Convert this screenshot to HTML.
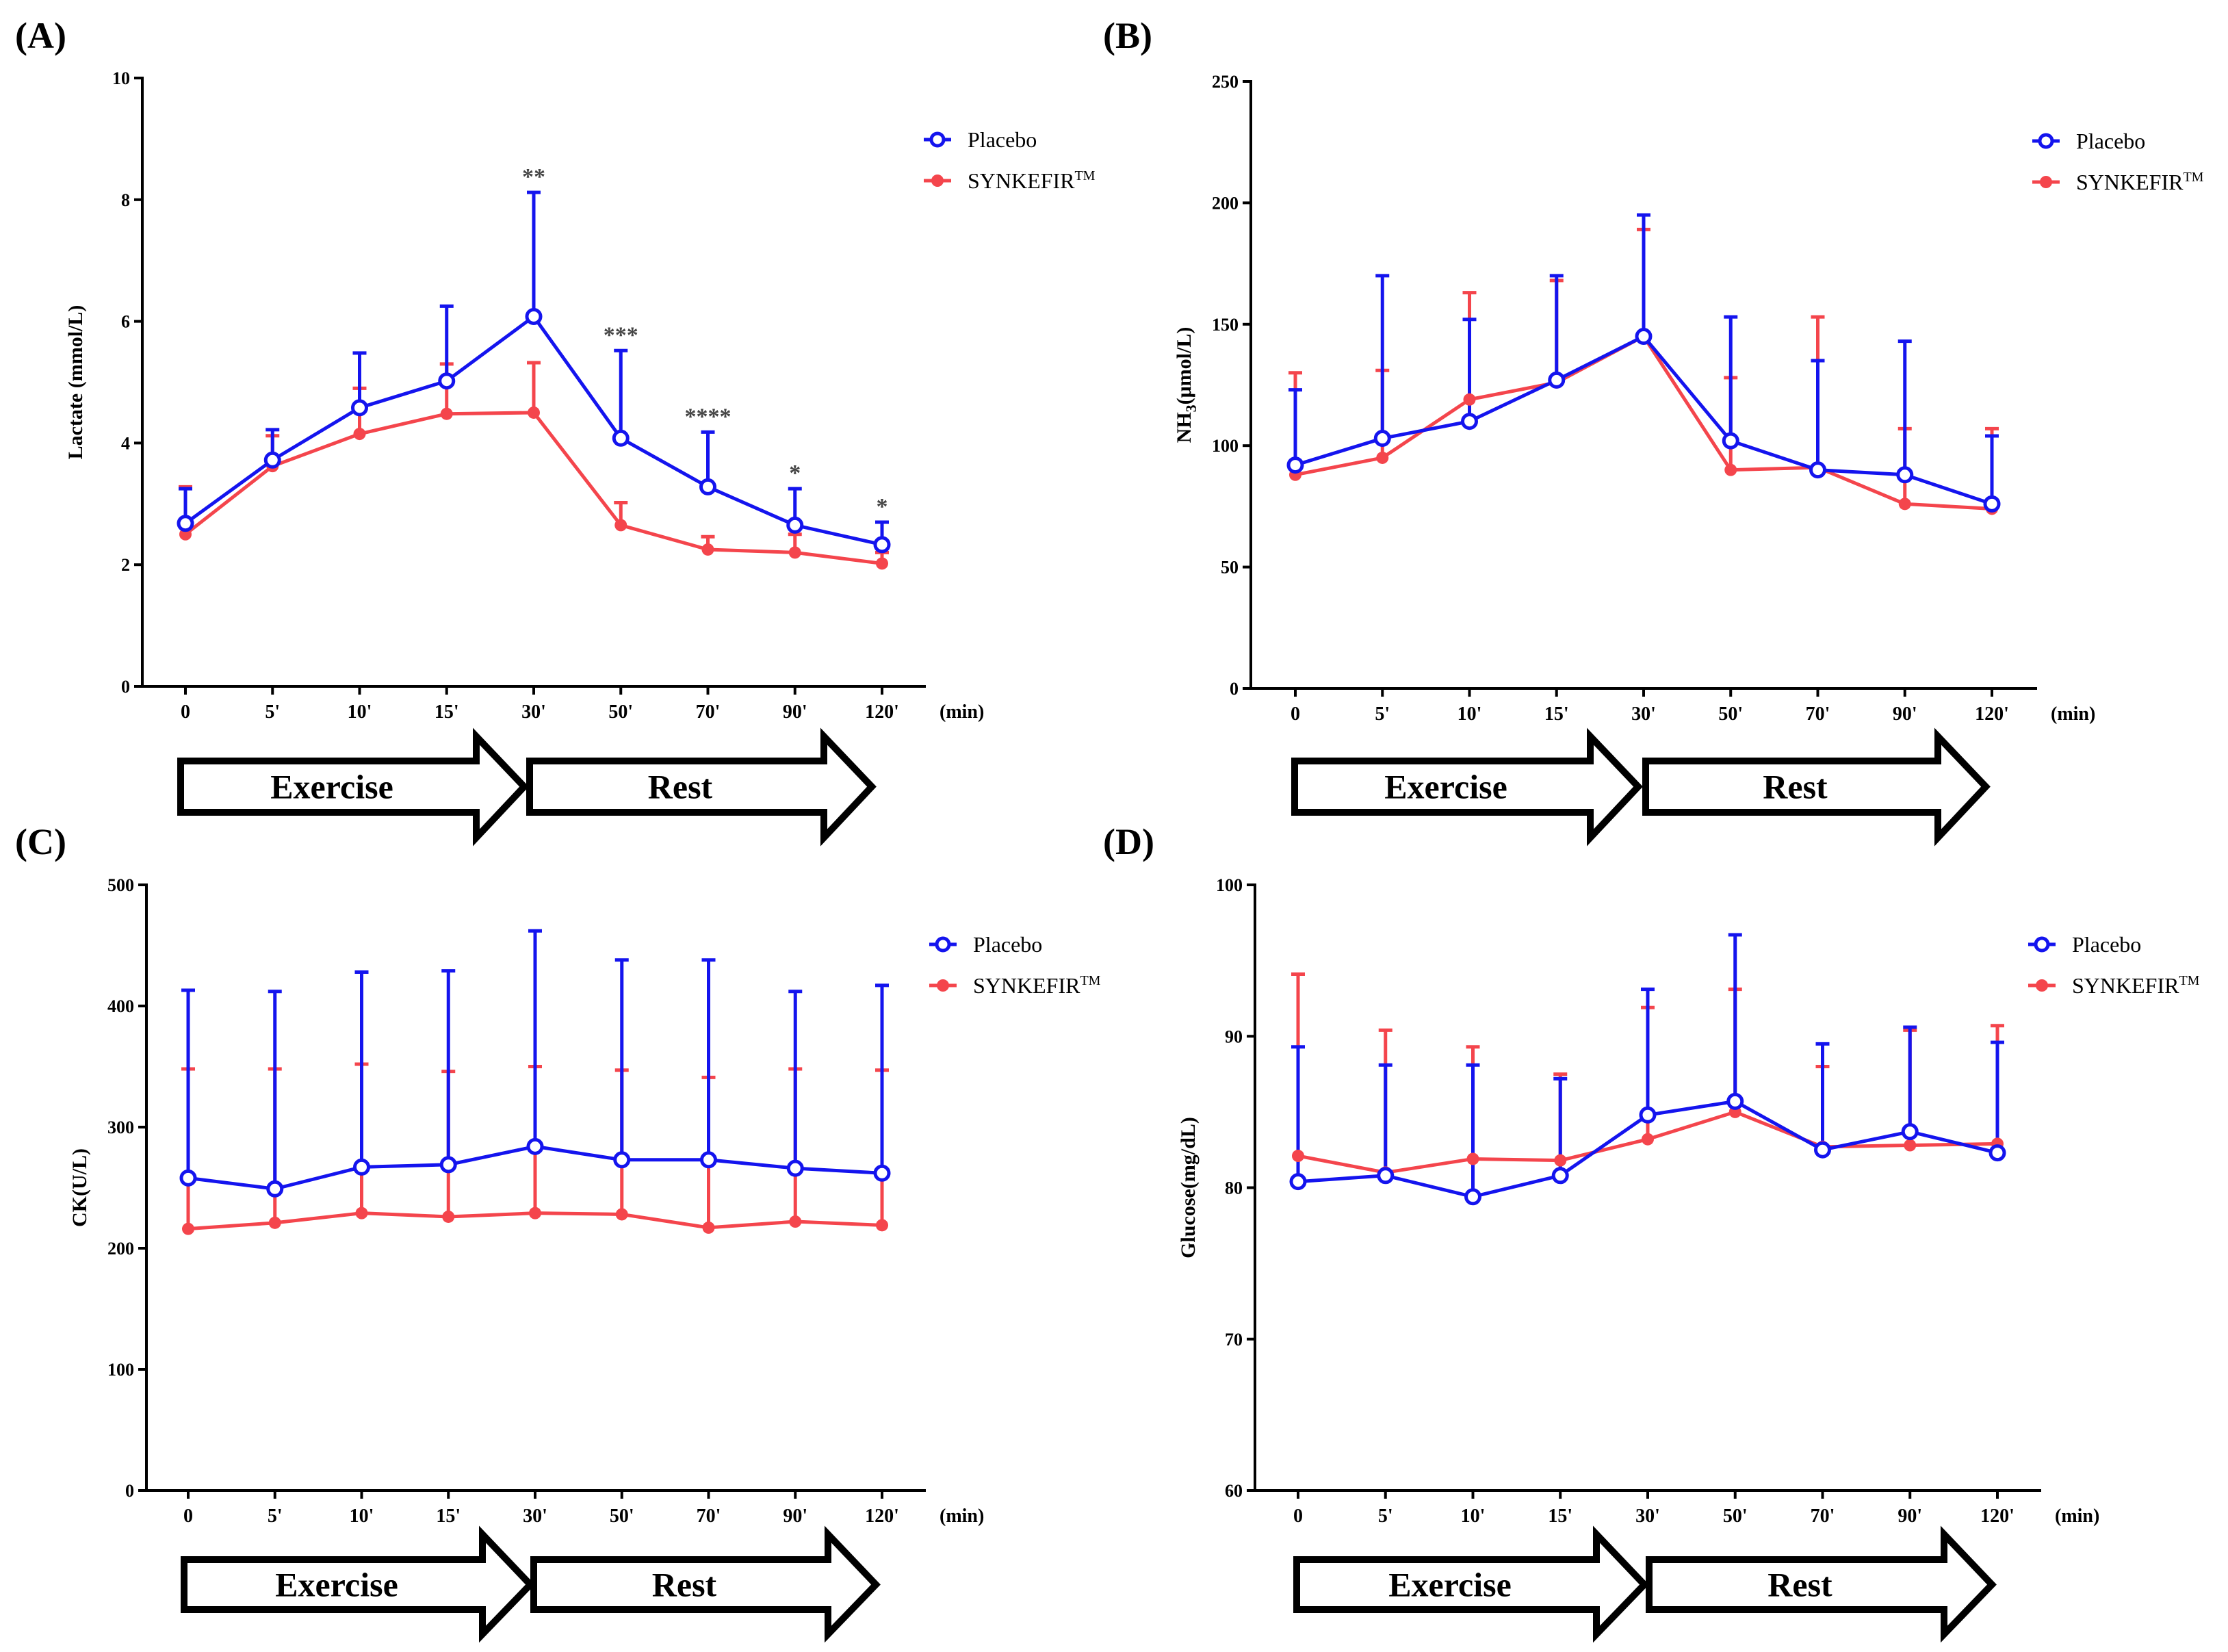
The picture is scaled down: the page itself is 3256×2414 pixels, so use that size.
<!DOCTYPE html>
<html><head><meta charset="utf-8"><style>
html,body{margin:0;padding:0;background:#fff;}
svg{display:block;}
text{font-family:"Liberation Serif",serif;}
</style></head><body>
<svg id="fig" width="3256" height="2414" viewBox="0 0 3256 2414" xmlns="http://www.w3.org/2000/svg"></svg>
<script>
const xCategories = ["0","5'","10'","15'","30'","50'","70'","90'","120'"];
const aPlacebo = [2.68,3.72,4.58,5.02,6.08,4.08,3.28,2.65,2.33];
const aPlaceboErr = [3.25,4.22,5.48,6.25,8.12,5.52,4.18,3.25,2.70];
const aSyn = [2.50,3.62,4.15,4.48,4.50,2.65,2.25,2.20,2.02];
const aSynErr = [3.28,4.12,4.90,5.30,5.32,3.02,2.46,2.50,2.20];
const aTicks = [0,2,4,6,8,10];
const aStars = ["","","","","**","***","****","*","*"];
const bPlacebo = [92,103,110,127,145,102,90,88,76];
const bPlaceboErr = [123,170,152,170,195,153,135,143,104];
const bSyn = [88,95,119,126,145,90,91,76,74];
const bSynErr = [130,131,163,168,189,128,153,107,107];
const bTicks = [0,50,100,150,200,250];
const cPlacebo = [258,249,267,269,284,273,273,266,262];
const cPlaceboErr = [413,412,428,429,462,438,438,412,417];
const cSyn = [216,221,229,226,229,228,217,222,219];
const cSynErr = [348,348,352,346,350,347,341,348,347];
const cTicks = [0,100,200,300,400,500];
const dPlacebo = [80.4,80.8,79.4,80.8,84.8,85.7,82.5,83.7,82.3];
const dPlaceboErr = [89.3,88.1,88.1,87.2,93.1,96.7,89.5,90.6,89.6];
const dSyn = [82.1,81.0,81.9,81.8,83.2,85.0,82.7,82.8,82.9];
const dSynErr = [94.1,90.4,89.3,87.5,91.9,93.1,88.0,90.4,90.7];
const dTicks = [60,70,80,90,100];

const NS="http://www.w3.org/2000/svg";
const svg=document.getElementById('fig');
function mk(tag,attrs,parent,txt){const e=document.createElementNS(NS,tag);for(const k in attrs)e.setAttribute(k,attrs[k]);if(txt!==undefined)e.textContent=txt;(parent||svg).appendChild(e);return e;}
const BLUE="#1414ee", RED="#f4454c";

function panel(cfg){
  const g=mk('g',{});
  
  
  const {ax,top,bot,x0,x8,xend,ymin,ymax}=cfg;
  const sy=v=>bot-(v-ymin)/(ymax-ymin)*(bot-top);
  const sx=i=>x0+i*(x8-x0)/8;
  const lbl=mk('text',{x:cfg.lx,y:cfg.ly,'font-size':54,'font-weight':'bold'},g,'('+cfg.id.toUpperCase()+')');
  
  
  const yaxis=mk('line',{x1:ax,y1:top-2,x2:ax,y2:bot+2,stroke:'#000','stroke-width':4},g);
  
  
  const xaxis=mk('line',{x1:ax-2,y1:bot,x2:xend,y2:bot,stroke:'#000','stroke-width':4},g);
  
  
  cfg.ticks.forEach(t=>{
    mk('line',{x1:ax-12,y1:sy(t),x2:ax,y2:sy(t),stroke:'#000','stroke-width':4},g);
    const tt=mk('text',{x:ax-18,y:sy(t)+9,'font-size':26,'font-weight':'bold','text-anchor':'end'},g,String(t));
    
    
  });
  xCategories.forEach((c,i)=>{
    mk('line',{x1:sx(i),y1:bot,x2:sx(i),y2:bot+12,stroke:'#000','stroke-width':4},g);
    const tt=mk('text',{x:sx(i),y:bot+46,'font-size':28,'font-weight':'bold','text-anchor':'middle'},g,c);
    
    
  });
  const mn=mk('text',{x:xend+20,y:bot+46,'font-size':28,'font-weight':'bold'},g,'(min)');
  
  
  const yt=mk('text',{x:0,y:0,'font-size':30,'font-weight':'bold','text-anchor':'middle',transform:`translate(${ax-88},${(top+bot)/2}) rotate(-90)`},g);
  
  
  cfg.ytitle.forEach(p=>{mk('tspan',p.sub?{'font-size':22,dy:8}:{dy:p.up?-8:0},yt,p.t);});
  const series=[{name:'synkefir',vals:cfg.syn,err:cfg.synErr,col:RED,open:false},{name:'placebo',vals:cfg.pla,err:cfg.plaErr,col:BLUE,open:true}];
  series.forEach(s=>{
    s.err.forEach((e,i)=>{
      const eb=mk('path',{d:`M${sx(i)},${sy(s.vals[i])}V${sy(e)}M${sx(i)-10},${sy(e)}H${sx(i)+10}`,stroke:s.col,'stroke-width':5,fill:'none'},g);
      
      
    });
  });
  series.forEach(s=>{
    const ln=mk('polyline',{points:s.vals.map((v,i)=>sx(i)+','+sy(v)).join(' '),stroke:s.col,'stroke-width':5,fill:'none'},g);
    
    
    s.vals.forEach((v,i)=>{
      const c=mk('circle',s.open?{cx:sx(i),cy:sy(v),r:10,fill:'#fff',stroke:s.col,'stroke-width':5}:{cx:sx(i),cy:sy(v),r:9,fill:s.col},g);
      
      
    });
  });
  if(cfg.stars){cfg.stars.forEach((st,i)=>{if(!st)return;
    const t=mk('text',{x:sx(i),y:sy(cfg.plaErr[i])-12,'font-size':34,'font-weight':'bold','fill':'#444','text-anchor':'middle'},g,st);
    
    });}
  const lg=mk('g',{},g);
  
  
  const L=cfg.legX, Ly=cfg.legY;
  mk('line',{x1:L-20,y1:Ly,x2:L+20,y2:Ly,stroke:BLUE,'stroke-width':5},lg);
  mk('circle',{cx:L,cy:Ly,r:9,fill:'#fff',stroke:BLUE,'stroke-width':5},lg);
  const p=mk('text',{x:L+44,y:Ly+11,'font-size':32},lg,'Placebo');
  
  
  mk('line',{x1:L-20,y1:Ly+60,x2:L+20,y2:Ly+60,stroke:RED,'stroke-width':5},lg);
  mk('circle',{cx:L,cy:Ly+60,r:9,fill:RED},lg);
  const q=mk('text',{x:L+44,y:Ly+71,'font-size':32},lg,'SYNKEFIR');
  
  
  mk('tspan',{'font-size':20,dy:-12},q,'TM');
  const ar=cfg.arrows;
  [['Exercise',ar.e1,ar.e2],['Rest',ar.r1,ar.r2]].forEach(([name,a,b])=>{
    const hs=b-70, bt=ar.y1, bb=ar.y2, ht=ar.h1, hb=ar.h2, mid=(bt+bb)/2;
    const pa=mk('path',{d:`M${a},${bt}H${hs}V${ht}L${b},${mid}L${hs},${hb}V${bb}H${a}Z`,fill:'#fff',stroke:'#000','stroke-width':10,'stroke-linejoin':'miter'},g);
    
    
    const t=mk('text',{x:(a+b)/2-30,y:mid+17,'font-size':50,'font-weight':'bold','text-anchor':'middle'},g,name);
    
    
  });
}
const arrTop={y1:1112,y2:1187,h1:1076,h2:1224};
const arrBot={y1:2279,y2:2352,h1:2242,h2:2388};
panel({id:'a',ax:208,top:114,bot:1003,x0:271,x8:1289,xend:1353,ymin:0,ymax:10,ticks:aTicks,
  ytitle:[{t:'Lactate (mmol/L)'}],pla:aPlacebo,plaErr:aPlaceboErr,syn:aSyn,synErr:aSynErr,stars:aStars,
  lx:22,ly:70,legX:1370,legY:204,arrows:Object.assign({e1:264,e2:766,r1:774,r2:1274},arrTop)});
panel({id:'b',ax:1828,top:119,bot:1006,x0:1893,x8:2911,xend:2977,ymin:0,ymax:250,ticks:bTicks,
  ytitle:[{t:'NH'},{t:'3',sub:true},{t:'(μmol/L)',up:true}],pla:bPlacebo,plaErr:bPlaceboErr,syn:bSyn,synErr:bSynErr,
  lx:1612,ly:70,legX:2990,legY:206,arrows:Object.assign({e1:1892,e2:2394,r1:2405,r2:2902},arrTop)});
panel({id:'c',ax:214,top:1293,bot:2178,x0:275,x8:1289,xend:1353,ymin:0,ymax:500,ticks:cTicks,
  ytitle:[{t:'CK(U/L)'}],pla:cPlacebo,plaErr:cPlaceboErr,syn:cSyn,synErr:cSynErr,
  lx:22,ly:1248,legX:1378,legY:1380,arrows:Object.assign({e1:269,e2:775,r1:780,r2:1280},arrBot)});
panel({id:'d',ax:1834,top:1293,bot:2178,x0:1897,x8:2919,xend:2983,ymin:60,ymax:100,ticks:dTicks,
  ytitle:[{t:'Glucose(mg/dL)'}],pla:dPlacebo,plaErr:dPlaceboErr,syn:dSyn,synErr:dSynErr,
  lx:1612,ly:1248,legX:2984,legY:1380,arrows:Object.assign({e1:1895,e2:2403,r1:2410,r2:2911},arrBot)});
</script>
</body></html>
